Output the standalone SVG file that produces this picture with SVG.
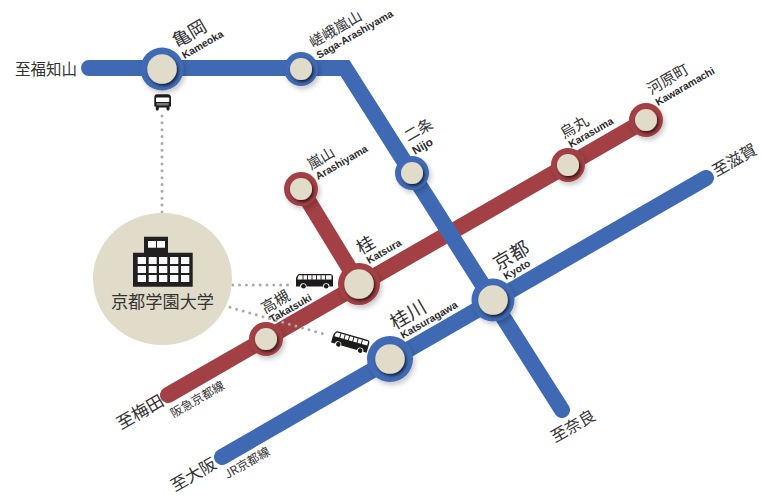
<svg xmlns="http://www.w3.org/2000/svg" xmlns:xlink="http://www.w3.org/1999/xlink" width="761" height="496" viewBox="0 0 761 496">
<style>
text{font-family:"Noto Sans CJK JP","Liberation Sans",sans-serif;fill:#333}
.en{font-family:"Liberation Sans",Arial,sans-serif;font-weight:700;font-size:10.3px;fill:#2b2b2b}
.blue{stroke:#3f6ab3}.red{stroke:#a24045}
.ln{fill:none;stroke-width:16;stroke-linecap:round;stroke-linejoin:miter}
.dot{fill:none;stroke:#aaa;stroke-width:3;stroke-linecap:round;stroke-dasharray:0 6.85}
.rb{fill:#3f6ab3;filter:url(#ds)}.rr{fill:#a24045;filter:url(#ds)}
.in{fill:#e1dbca;filter:url(#is)}
.w{fill:#fff}
</style>
<defs>
<filter id="ds" x="-40%" y="-40%" width="190%" height="190%"><feDropShadow dx="2" dy="3" stdDeviation="2.5" flood-color="#000" flood-opacity=".22"/></filter>
<filter id="is" x="-40%" y="-40%" width="190%" height="190%"><feDropShadow dx="1.5" dy="2" stdDeviation="1.6" flood-color="#000" flood-opacity=".7"/></filter>
<g id="bus">
<path d="M3 0H34Q37 0 37 3V12.500H33.500A3 3 0 0 0 27 12.500H10.500A3 3 0 0 0 4 12.500H0V5Q0 3 1 2Q2 0 3 0Z" fill="#1d1a1a"/>
<path d="M3 1.200H35.500V5.500H1.500Q1.600 2 3 1.200Z" fill="#fff"/>
<path d="M7 1V6M11.500 1V6M16 1V6M20.500 1V6M25 1V6M29.500 1V6" stroke="#1d1a1a" stroke-width=".9"/>
<circle cx="7.500" cy="12.200" r="2.300" fill="#1d1a1a"/><circle cx="30.200" cy="12.200" r="2.300" fill="#1d1a1a"/>
</g>
</defs>

<g id="connectors">
<path class="ln red" d="M168 395L646 120"/>
<path class="ln red" d="M301 189L359 284"/>
<path class="ln blue" d="M89 68H345L562 410"/>
<path class="ln blue" d="M222 457L706 178"/>
<path class="dot" d="M162 116V213"/>
<path class="dot" d="M232.700 285H288"/>
<path class="dot" d="M230 307.300L324 334"/>
</g>

<g id="university">
<ellipse cx="162.500" cy="279" rx="69.500" ry="66" fill="#e1dbca"/>
<path d="M144 236.700H168V252.700H192.700V286.700H133V252.700H144Z" fill="#231f20"/>
<g class="w">
<rect x="148" y="241" width="8" height="6.700"/><rect x="157" y="241" width="8" height="6.700"/>
<rect x="137.700" y="257" width="8.300" height="7"/><rect x="148.700" y="257" width="8" height="7"/><rect x="159" y="257" width="8.300" height="7"/><rect x="170" y="257" width="8.300" height="7"/><rect x="181" y="257" width="8.300" height="7"/>
<rect x="137.700" y="266" width="8.300" height="7"/><rect x="148.700" y="266" width="8" height="7"/><rect x="159" y="266" width="8.300" height="7"/><rect x="170" y="266" width="8.300" height="7"/><rect x="181" y="266" width="8.300" height="7"/>
<rect x="137.700" y="275" width="8.300" height="7"/><rect x="148.700" y="275" width="8" height="7"/><rect x="159" y="275" width="8.300" height="7"/><rect x="170" y="275" width="8.300" height="7"/><rect x="181" y="275" width="8.300" height="7"/>
</g>
<text x="162.500" y="307.500" font-size="17.200" text-anchor="middle">京都学園大学</text>
</g>

<g id="bus-kameoka">
<path d="M157 94.300H168Q171 94.300 171 98V106.500H169.500V109A1.500 1.500 0 0 1 166.500 109V107.500H158.800V109A1.500 1.500 0 0 1 155.800 109V106.500H154.300V98Q154.300 94.300 157 94.300Z" fill="#1d1a1a"/>
<rect x="156" y="97.500" width="13.300" height="4.500" rx=".6" fill="#fff"/>
<rect x="156.500" y="103" width="12.300" height="2.500" fill="#777"/>
</g>
<use id="bus-katsura" href="#bus" xlink:href="#bus" x="296" y="274"/>
<use id="bus-katsuragawa" href="#bus" xlink:href="#bus" transform="translate(334.500 330.500) rotate(16)"/>

<g id="kameoka">
<circle class="rb" cx="162" cy="69" r="21.500"/><circle class="in" cx="162" cy="69" r="14.700"/>
<text transform="translate(177 48) rotate(-30)" font-size="18">亀岡</text>
<text class="en" transform="translate(184.500 59) rotate(-30)">Kameoka</text>
</g>
<g id="saga-arashiyama">
<circle class="rb" cx="301" cy="69" r="17"/><circle class="in" cx="301" cy="69" r="11"/>
<text transform="translate(313 48) rotate(-30)" font-size="14.500">嵯峨嵐山</text>
<text class="en" transform="translate(319 59) rotate(-30)">Saga-Arashiyama</text>
</g>
<g id="arashiyama">
<circle class="rr" cx="301" cy="189" r="17"/><circle class="in" cx="301" cy="189" r="11"/>
<text transform="translate(311 170) rotate(-30)" font-size="14.500">嵐山</text>
<text class="en" transform="translate(318 180) rotate(-30)">Arashiyama</text>
</g>
<g id="nijo">
<circle class="rb" cx="412" cy="173" r="17"/><circle class="in" cx="412" cy="173" r="11"/>
<text transform="translate(408 142) rotate(-30)" font-size="15">二条</text>
<text class="en" style="font-size:11.500px" transform="translate(415 155) rotate(-30)">Nijo</text>
</g>
<g id="katsura">
<circle class="rr" cx="359" cy="284" r="21"/><circle class="in" cx="359" cy="284" r="14.700"/>
<text transform="translate(361 255) rotate(-30)" font-size="18">桂</text>
<text class="en" transform="translate(369 264) rotate(-30)">Katsura</text>
</g>
<g id="takatsuki">
<circle class="rr" cx="266" cy="339" r="17"/><circle class="in" cx="266" cy="339" r="11"/>
<text transform="translate(265 314) rotate(-30)" font-size="15">高槻</text>
<text class="en" transform="translate(272 323) rotate(-30)">Takatsuki</text>
</g>
<g id="karasuma">
<circle class="rr" cx="568" cy="165" r="17"/><circle class="in" cx="568" cy="165" r="11"/>
<text transform="translate(564 139) rotate(-30)" font-size="15">烏丸</text>
<text class="en" transform="translate(571 148) rotate(-30)">Karasuma</text>
</g>
<g id="kawaramachi">
<circle class="rr" cx="646" cy="120" r="17"/><circle class="in" cx="646" cy="120" r="11"/>
<text transform="translate(651 95) rotate(-30)" font-size="15">河原町</text>
<text class="en" transform="translate(658 106) rotate(-30)">Kawaramachi</text>
</g>
<g id="kyoto">
<circle class="rb" cx="493" cy="300" r="21.500"/><circle class="in" cx="493" cy="300" r="14.700"/>
<text transform="translate(498 271) rotate(-30)" font-size="19">京都</text>
<text class="en" transform="translate(506 280) rotate(-30)">Kyoto</text>
</g>
<g id="katsuragawa">
<circle class="rb" cx="390" cy="359" r="23"/><circle class="in" cx="390" cy="359" r="14.700"/>
<text transform="translate(395 330) rotate(-30)" font-size="19">桂川</text>
<text class="en" transform="translate(403 339) rotate(-30)">Katsuragawa</text>
</g>

<g id="terminals">
<text x="15" y="75" font-size="15.500">至福知山</text>
<text transform="translate(716.500 177) rotate(-30)" font-size="16">至滋賀</text>
<text transform="translate(555 443) rotate(-30)" font-size="16">至奈良</text>
<text transform="translate(121 430) rotate(-30)" font-size="17">至梅田</text>
<text transform="translate(175 492) rotate(-30)" font-size="16.500">至大阪</text>
<text transform="translate(173.500 418) rotate(-30)" font-size="12">阪急京都線</text>
<text transform="translate(227.500 479) rotate(-30)" font-size="12">JR京都線</text>
</g>
</svg>
